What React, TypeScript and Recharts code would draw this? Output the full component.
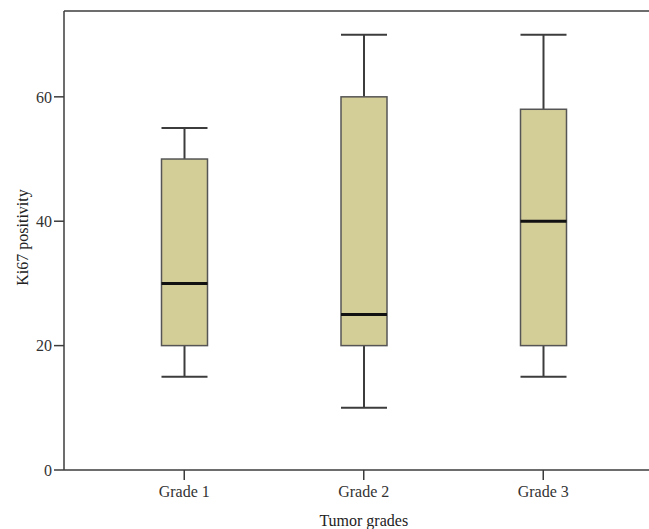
import React from 'react';
import { ComposedChart, Bar, XAxis, YAxis, ReferenceLine, Label } from 'recharts';

const grades = ['Grade 1', 'Grade 2', 'Grade 3'];
const mins = [15, 10, 15];
const q1s = [20, 20, 20];
const medians = [30, 25, 40];
const q3s = [50, 60, 58];
const maxs = [55, 70, 70];
const yTicks = [0, 20, 40, 60];
const Y_MAX = 73.8;

const data = grades.map((g, i) => ({
  grade: g,
  range: [mins[i], maxs[i]],
  min: mins[i],
  q1: q1s[i],
  median: medians[i],
  q3: q3s[i],
  max: maxs[i],
}));

const FONT = '"Liberation Serif", "Times New Roman", serif';
const INK = '#3c3c3c';
const BOX_FILL = '#d3cd98';
const PAD_LEFT = 30.5;
const PAD_RIGHT = 16;

// draws one box plot inside the range bar (min..max) the library laid out
const BoxShape = (props: any) => {
  const { x, y, width, height } = props;
  const p = props.payload ?? props;
  const k = height / (p.max - p.min);
  const py = (v: number) => y + (p.max - v) * k;
  const cx = x + width / 2;
  return (
    <g>
      <line x1={cx} x2={cx} y1={py(p.max)} y2={py(p.q3)} stroke={INK} strokeWidth={2} />
      <line x1={cx} x2={cx} y1={py(p.q1)} y2={py(p.min)} stroke={INK} strokeWidth={2} />
      <line x1={x} x2={x + width} y1={py(p.max)} y2={py(p.max)} stroke={INK} strokeWidth={2} />
      <line x1={x} x2={x + width} y1={py(p.min)} y2={py(p.min)} stroke={INK} strokeWidth={2} />
      <rect
        x={x}
        y={py(p.q3)}
        width={width}
        height={py(p.q1) - py(p.q3)}
        fill={BOX_FILL}
        stroke="#555"
        strokeWidth={1.5}
      />
      <line x1={x} x2={x + width} y1={py(p.median)} y2={py(p.median)} stroke="#111" strokeWidth={3} />
    </g>
  );
};

const XTitle = (props: any) => {
  const vb = props.viewBox;
  const cx = vb.x + PAD_LEFT + (vb.width - PAD_LEFT - PAD_RIGHT) / 2;
  return (
    <text x={cx} y={vb.y + vb.height - 3} textAnchor="middle" fill="#222" fontSize={16} fontFamily={FONT}>
      Tumor grades
    </text>
  );
};

const YTitle = (props: any) => {
  const vb = props.viewBox;
  const x = vb.x + 22;
  const y = vb.y + vb.height / 2 - 3;
  return (
    <text
      x={x}
      y={y}
      transform={`rotate(-90, ${x}, ${y})`}
      textAnchor="middle"
      dominantBaseline="central"
      fill="#222"
      fontSize={16}
      fontFamily={FONT}
    >
      Ki67 positivity
    </text>
  );
};

const App = () => {
  const tickStyle = { fill: '#333', fontSize: 16, fontFamily: FONT };
  return (
    <div style={{ position: 'absolute', left: 0, top: 0, background: '#fff' }}>
      <ComposedChart width={649} height={529} data={data} margin={{ top: 11, right: 0, bottom: 0, left: 0 }}>
        <XAxis
          dataKey="grade"
          height={59}
          padding={{ left: PAD_LEFT, right: PAD_RIGHT }}
          tickSize={10}
          tickMargin={6}
          tick={tickStyle}
          axisLine={{ stroke: INK, strokeWidth: 1.5 }}
          tickLine={{ stroke: INK, strokeWidth: 1.5 }}
        >
          <Label content={XTitle} />
        </XAxis>
        <YAxis
          width={64}
          domain={[0, Y_MAX]}
          ticks={yTicks}
          tickSize={10}
          tick={tickStyle}
          axisLine={{ stroke: INK, strokeWidth: 1.5 }}
          tickLine={{ stroke: INK, strokeWidth: 1.5 }}
          allowDataOverflow
        >
          <Label content={YTitle} />
        </YAxis>
        <ReferenceLine y={Y_MAX} stroke={INK} strokeWidth={1.5} />
        <Bar dataKey="range" barSize={46} shape={BoxShape} isAnimationActive={false} />
      </ComposedChart>
    </div>
  );
};

export default App;
